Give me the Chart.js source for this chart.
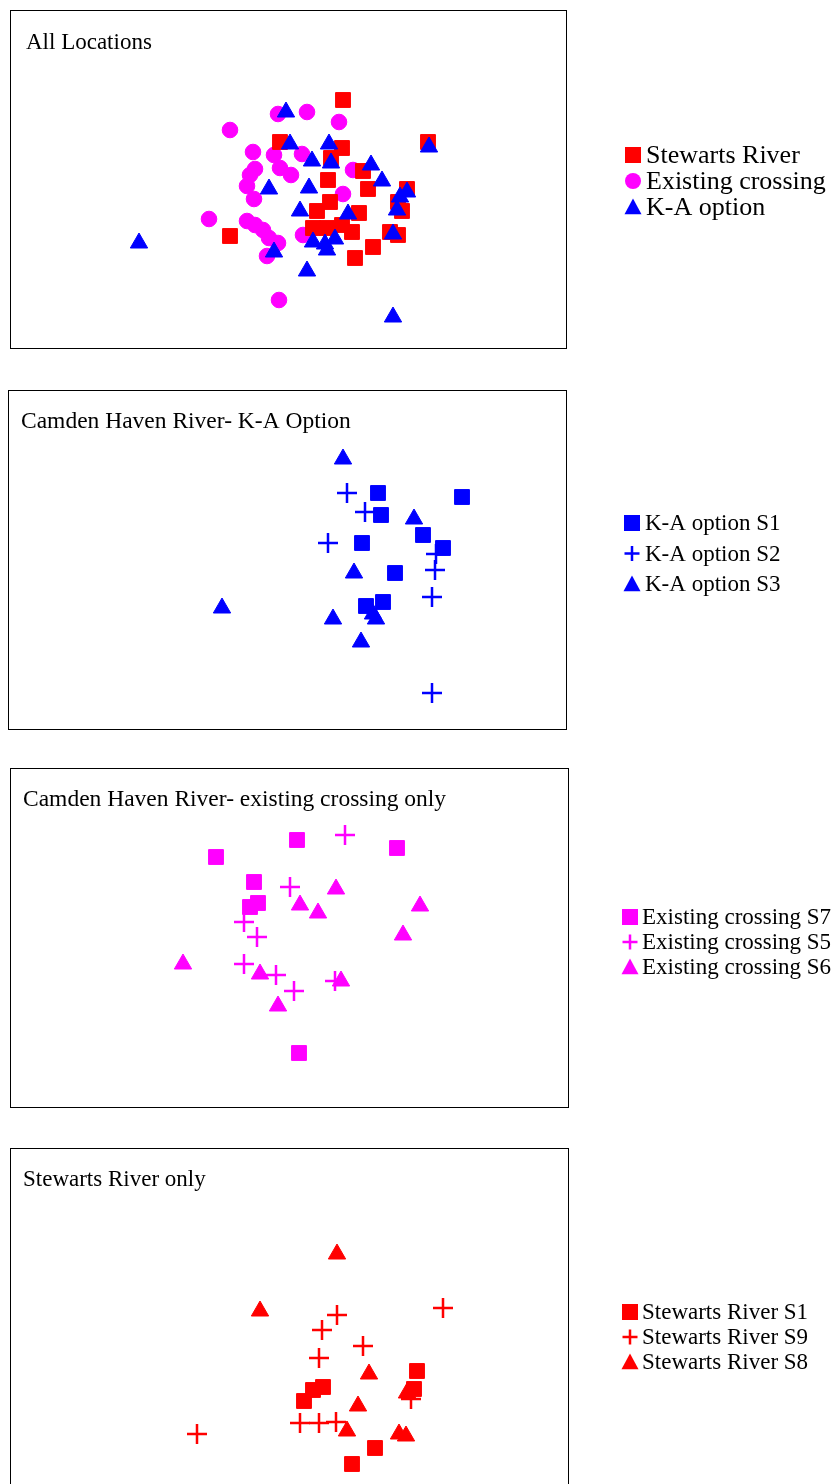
<!DOCTYPE html>
<html lang="en">
<head>
<meta charset="UTF-8">
<title>MDS plots - Stewarts / Camden Haven River</title>
<script src="https://cdn.jsdelivr.net/npm/chart.js"></script>
<style>
  html, body { margin: 0; padding: 0; background: #fff; overflow: hidden; }
  .panel { position: absolute; left: 0; width: 834px; }
</style>
</head>
<body>
<div class="panel" style="top:0;height:370px"><canvas id="allChart"></canvas></div>
<div class="panel" style="top:370px;height:380px"><canvas id="kaChart"></canvas></div>
<div class="panel" style="top:750px;height:380px"><canvas id="existChart"></canvas></div>
<div class="panel" style="top:1130px;height:370px"><canvas id="stewChart"></canvas></div>

<script>
// point positions (page x, page y)

// All Locations
const allStewarts = [[343,100],[280,142],[342,148],[428,142],[331,158],[363,171],[328,180],[368,189],
  [407,189],[398,202],[330,202],[317,211],[359,213],[402,211],[313,228],[327,228],[342,225],[352,232],
  [390,232],[398,235],[373,247],[355,258],[230,236]];
const allExisting = [[278,114],[307,112],[339,122],[230,130],[253,152],[274,155],[302,154],[255,169],
  [280,168],[291,175],[250,175],[247,186],[254,199],[353,170],[343,194],[209,219],[247,221],[255,225],
  [263,230],[269,238],[278,243],[267,256],[303,235],[279,300]];
const allKA = [[286,112],[290,144],[329,144],[429,147],[312,161],[331,163],[371,165],[382,181],[309,188],
  [269,189],[407,192],[400,197],[397,210],[300,211],[348,214],[335,239],[313,242],[325,244],[327,250],
  [274,252],[393,234],[307,271],[393,317],[139,243]];

// Camden Haven River - K-A Option
const kaS1 = [[378,493],[462,497],[381,515],[362,543],[423,535],[443,548],[395,573],[366,606],[383,602]];
const kaS2 = [[347,493],[365,512],[328,543],[436,554],[435,570],[432,597],[432,693]];
const kaS3 = [[343,459],[414,519],[354,573],[333,619],[376,619],[373,614],[361,642],[222,608]];

// Camden Haven River - existing crossing only
const exS7 = [[216,857],[297,840],[254,882],[258,903],[250,907],[397,848],[299,1053]];
const exS5 = [[345,835],[290,887],[244,922],[257,937],[244,964],[276,975],[294,991],[335,981]];
const exS6 = [[300,905],[183,964],[260,974],[278,1006],[336,889],[318,913],[420,906],[403,935],[341,981]];

// Stewarts River only
const stS1 = [[304,1401],[323,1387],[313,1390],[417,1371],[414,1389],[375,1448],[352,1464]];
const stS9 = [[197,1434],[300,1423],[443,1308],[337,1315],[322,1330],[363,1346],[319,1358],[411,1399],
  [319,1423],[336,1422]];
const stS8 = [[260,1311],[337,1254],[369,1374],[407,1393],[358,1406],[347,1431],[399,1434],[406,1436]];

const RED = '#ff0000', MAGENTA = '#ff00ff', BLUE = '#0000ff';
const FONT = "'Liberation Serif', 'Times New Roman', serif";

function pts(arr) { return arr.map(p => ({ x: p[0], y: p[1] })); }

function series(label, arr, color, style, order) {
  const cross = style === 'cross';
  return {
    label: label,
    data: pts(arr),
    pointStyle: style,
    pointRadius: style === 'rect' ? 10.5 : style === 'circle' ? 7.8 : style === 'triangle' ? 10 : 10,
    pointBackgroundColor: color,
    pointBorderColor: color,
    pointBorderWidth: cross ? 2.5 : 1,
    showLine: false,
    order: order
  };
}

function drawMarker(ctx, style, x, y, r, color) {
  ctx.save();
  ctx.fillStyle = color;
  ctx.strokeStyle = color;
  ctx.lineWidth = 2.5;
  ctx.beginPath();
  if (style === 'rect') {
    ctx.rect(x - r, y - r, 2 * r, 2 * r);
    ctx.fill();
  } else if (style === 'circle') {
    ctx.arc(x, y, r, 0, Math.PI * 2);
    ctx.fill();
  } else if (style === 'triangle') {
    ctx.moveTo(x, y - r);
    ctx.lineTo(x + r, y + r * 0.85);
    ctx.lineTo(x - r, y + r * 0.85);
    ctx.closePath();
    ctx.fill();
  } else {
    ctx.moveTo(x - r, y); ctx.lineTo(x + r, y);
    ctx.moveTo(x, y - r); ctx.lineTo(x, y + r);
    ctx.stroke();
  }
  ctx.restore();
}

const framePlugin = {
  id: 'frame',
  afterDraw(chart) {
    const p = chart.options.plugins.frame;
    const { ctx, chartArea: a } = chart;
    ctx.save();
    ctx.strokeStyle = '#000';
    ctx.lineWidth = 1;
    ctx.strokeRect(a.left + 0.5, a.top + 0.5, a.right - a.left - 1, a.bottom - a.top - 1);
    ctx.fillStyle = '#000';
    ctx.textBaseline = 'middle';
    ctx.font = p.titleSize + 'px ' + FONT;
    ctx.fillText(p.title, p.titleX, p.titleY - p.top);
    ctx.font = p.legendSize + 'px ' + FONT;
    chart.data.datasets.forEach((ds, i) => {
      const y = p.legendY[i] - p.top;
      drawMarker(ctx, ds.pointStyle, p.markerX, y, p.markerR[ds.pointStyle], ds.pointBackgroundColor);
      ctx.fillStyle = '#000';
      ctx.fillText(ds.label, p.textX, y + 1);
    });
    ctx.restore();
  }
};

function makePanel(id, top, height, box, datasets, frame) {
  frame.top = top;
  new Chart(document.getElementById(id), {
    type: 'scatter',
    data: { datasets: datasets },
    options: {
      responsive: true,
      maintainAspectRatio: false,
      animation: false,
      events: [],
      layout: {
        autoPadding: false,
        padding: {
          left: box.l,
          right: 834 - (box.r + 1),
          top: box.t - top,
          bottom: height - (box.b + 1 - top)
        }
      },
      scales: {
        x: { type: 'linear', display: false, min: box.l, max: box.r + 1 },
        y: { type: 'linear', display: false, min: box.t, max: box.b + 1, reverse: true }
      },
      plugins: { legend: { display: false }, tooltip: { enabled: false }, frame: frame }
    },
    plugins: [framePlugin]
  });
}

makePanel('allChart', 0, 370, { l: 10, t: 10, r: 566, b: 348 }, [
  series('Stewarts River', allStewarts, RED, 'rect', 1),
  series('Existing crossing', allExisting, MAGENTA, 'circle', 2),
  series('K-A option', allKA, BLUE, 'triangle', 0)
], {
  title: 'All Locations', titleX: 26, titleY: 43, titleSize: 23,
  markerX: 633, textX: 646, legendY: [155, 181, 207], legendSize: 26,
  markerR: { rect: 8, circle: 8, triangle: 8.5, cross: 8 }
});

makePanel('kaChart', 370, 380, { l: 8, t: 390, r: 566, b: 729 }, [
  series('K-A option S1', kaS1, BLUE, 'rect', 1),
  series('K-A option S2', kaS2, BLUE, 'cross', 2),
  series('K-A option S3', kaS3, BLUE, 'triangle', 0)
], {
  title: 'Camden Haven River- K-A Option', titleX: 21, titleY: 422, titleSize: 23.5,
  markerX: 632, textX: 645, legendY: [523, 553.5, 584], legendSize: 23,
  markerR: { rect: 8, circle: 8, triangle: 8.5, cross: 7.5 }
});

makePanel('existChart', 750, 380, { l: 10, t: 768, r: 568, b: 1107 }, [
  series('Existing crossing S7', exS7, MAGENTA, 'rect', 2),
  series('Existing crossing S5', exS5, MAGENTA, 'cross', 1),
  series('Existing crossing S6', exS6, MAGENTA, 'triangle', 0)
], {
  title: 'Camden Haven River- existing crossing only', titleX: 23, titleY: 800, titleSize: 23.5,
  markerX: 630, textX: 642, legendY: [917, 942, 967], legendSize: 23,
  markerR: { rect: 8, circle: 8, triangle: 8.5, cross: 7.5 }
});

makePanel('stewChart', 1130, 370, { l: 10, t: 1148, r: 568, b: 1487 }, [
  series('Stewarts River S1', stS1, RED, 'rect', 2),
  series('Stewarts River S9', stS9, RED, 'cross', 1),
  series('Stewarts River S8', stS8, RED, 'triangle', 0)
], {
  title: 'Stewarts River only', titleX: 23, titleY: 1180, titleSize: 23,
  markerX: 630, textX: 642, legendY: [1312, 1337, 1362], legendSize: 23,
  markerR: { rect: 8, circle: 8, triangle: 8.5, cross: 7.5 }
});
</script>
</body>
</html>
